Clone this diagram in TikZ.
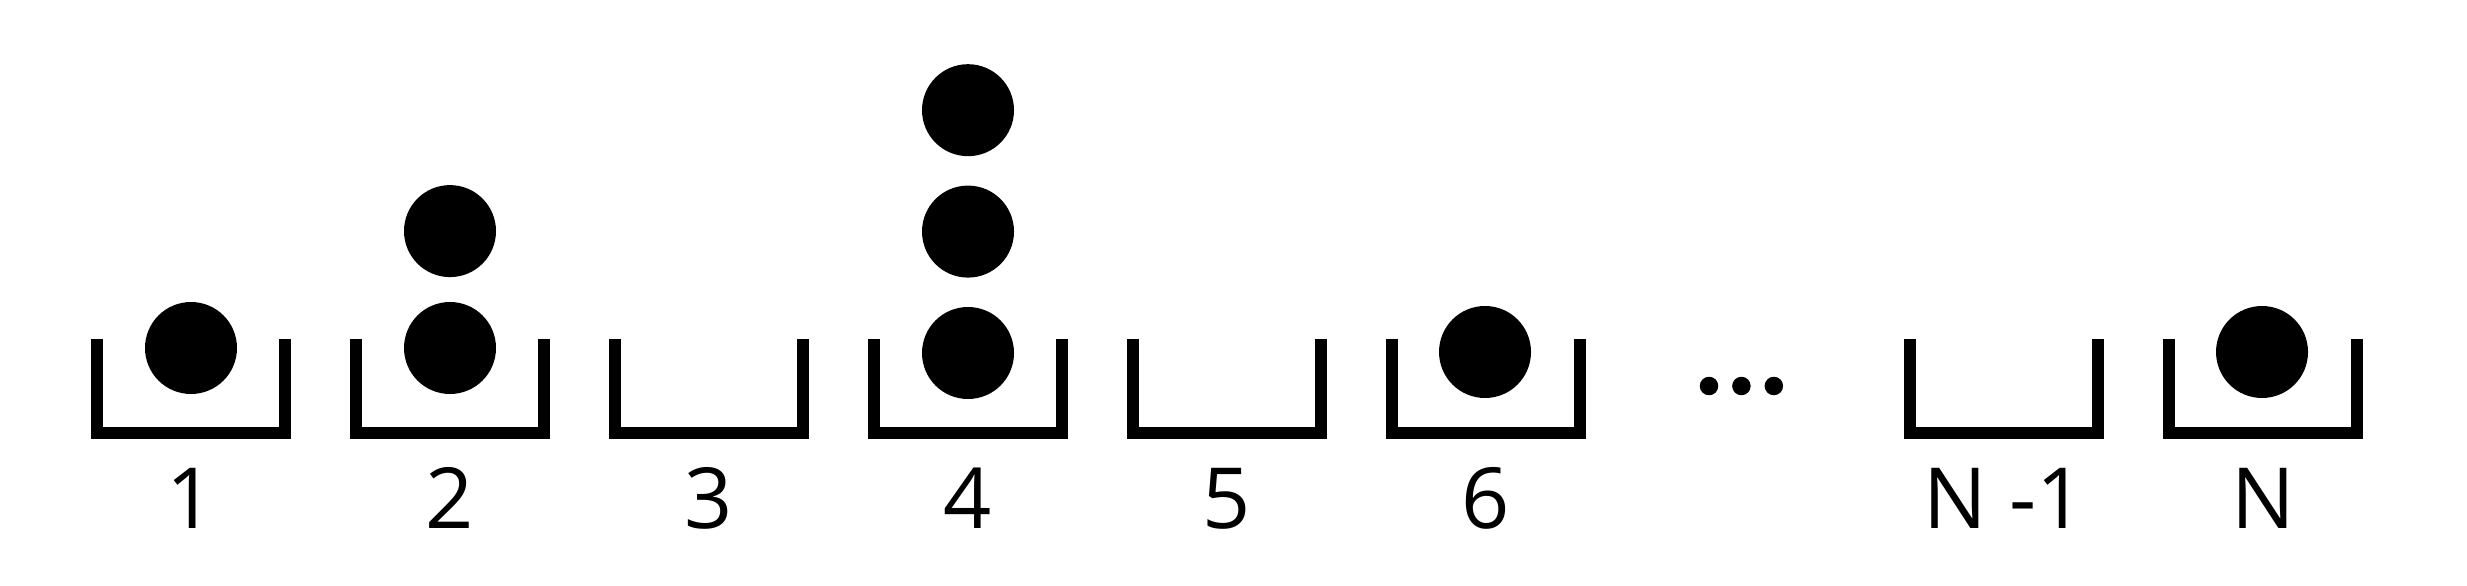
\documentclass[tikz,border=0pt]{standalone}
\usepackage{fontspec}
\setmainfont{Open Sans}
\usetikzlibrary{positioning}
\tikzset{%
	bin/.style={line width=1.23mm, line join=miter},
	ball/.style={circle, fill=black, minimum size=9.2mm, inner sep=0mm},
	gap/.style={circle, fill=black, minimum size=1.85mm, inner sep=0mm},
	binlabel/.style={anchor=base, inner sep=0mm, font=\fontsize{24}{28}\selectfont}
}

\begin{document}
\begin{tikzpicture}[x=0.1mm, y=-0.1mm]
	\useasboundingbox (0,0) rectangle (2467,586);
	% bins with their numbers
	\foreach \name/\lft/\txt in {b1/91/1, b2/350/2, b3/609/3, b4/868/4, b5/1127/5, b6/1386/6, bn1/1904/{N -1}, bn/2163/N} {
		\draw[bin] (\lft+6.15,339) -- (\lft+6.15,432.85) -- (\lft+193.85,432.85) -- (\lft+193.85,339);
		\node[binlabel] (\name) at (\lft+100,528) {\txt};
	}

	% balls
	\node[ball] (k1) at (191,348) {};
	\node[ball] (k2a) at (450,348) {};
	\node[ball, above=2.35mm of k2a] (k2b) {};
	\node[ball] (k4a) at (968,353) {};
	\node[ball, above=2.8mm of k4a] (k4b) {};
	\node[ball, above=2.8mm of k4b] (k4c) {};
	\node[ball] (k6) at (1485,352) {};
	\node[ball] (kn) at (2262,352) {};

	% dots between 6 and N-1
	\node[gap] (d1) at (1709,386) {};
	\node[gap, right=1.25mm of d1] (d2) {};
	\node[gap, right=1.25mm of d2] (d3) {};
\end{tikzpicture}
\end{document}
